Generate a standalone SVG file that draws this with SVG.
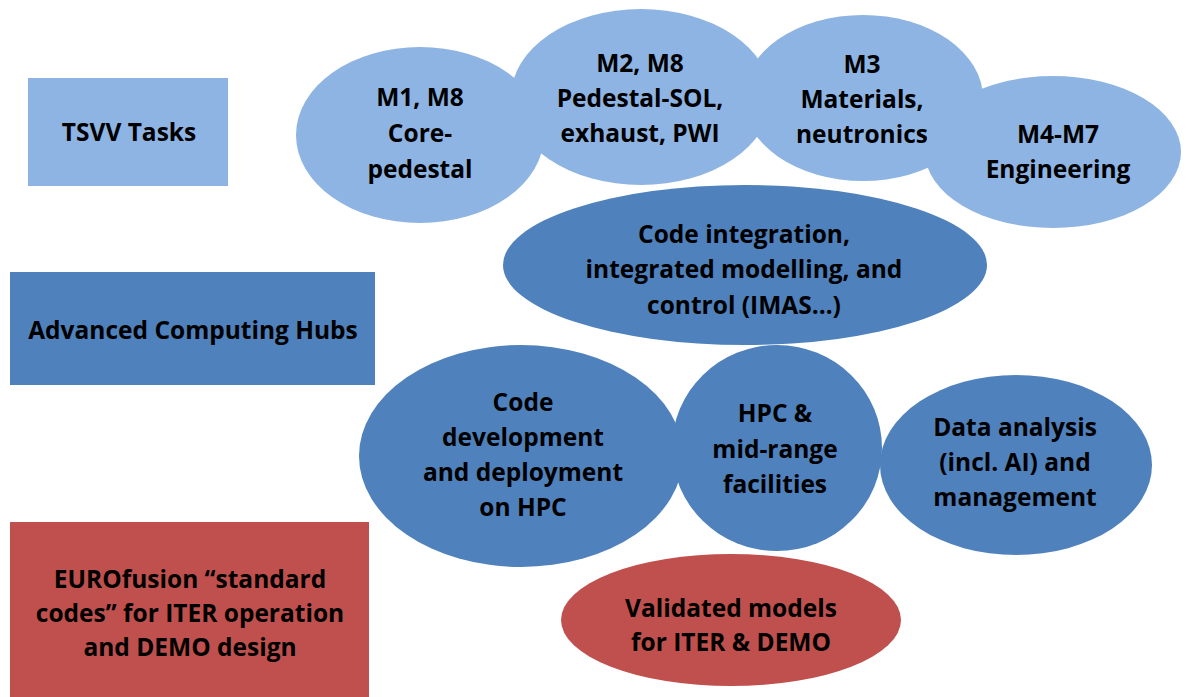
<svg xmlns="http://www.w3.org/2000/svg" width="1189" height="697" viewBox="0 0 1189 697">
  <style>
    .light { fill: #8EB4E3; }
    .dark { fill: #4F81BD; }
    .red { fill: #C0504D; }
    text { font-family: "Open Sans", "Liberation Sans", sans-serif; font-weight: bold; font-size: 24.5px; fill: #000; text-anchor: middle; dominant-baseline: central; }
  </style>
  <rect width="1189" height="697" fill="#ffffff"/>

  <!-- row labels -->
  <g id="tsvv-tasks">
    <rect class="light" x="28" y="78" width="200" height="108"/>
    <text x="129" y="131">TSVV Tasks</text>
  </g>
  <g id="computing-hubs">
    <rect class="dark" x="10" y="272" width="365" height="113"/>
    <text x="193" y="329">Advanced Computing Hubs</text>
  </g>
  <g id="standard-codes">
    <rect class="red" x="10" y="522" width="359" height="175"/>
    <text x="190" y="578">EUROfusion “standard</text>
    <text x="190" y="612">codes” for ITER operation</text>
    <text x="190" y="646">and DEMO design</text>
  </g>

  <!-- TSVV task ellipses -->
  <g id="m1-m8">
    <ellipse class="light" cx="420" cy="135" rx="124" ry="88"/>
    <text x="420" y="96">M1, M8</text>
    <text x="420" y="132">Core-</text>
    <text x="420" y="168">pedestal</text>
  </g>
  <g id="m2-m8">
    <ellipse class="light" cx="641" cy="97" rx="130" ry="88"/>
    <text x="640" y="62">M2, M8</text>
    <text x="640" y="97">Pedestal-SOL,</text>
    <text x="640" y="132">exhaust, PWI</text>
  </g>
  <g id="m3">
    <ellipse class="light" cx="863" cy="98" rx="120" ry="83"/>
    <text x="862" y="63">M3</text>
    <text x="862" y="98">Materials,</text>
    <text x="862" y="133">neutronics</text>
  </g>
  <g id="m4-m7">
    <ellipse class="light" cx="1053" cy="152" rx="128" ry="76"/>
    <text x="1058" y="133">M4-M7</text>
    <text x="1058" y="168">Engineering</text>
  </g>

  <!-- computing hub ellipses -->
  <g id="code-integration">
    <ellipse class="dark" cx="745" cy="265" rx="242" ry="80"/>
    <text x="744" y="233">Code integration,</text>
    <text x="744" y="268">integrated modelling, and</text>
    <text x="744" y="304">control (IMAS…)</text>
  </g>
  <g id="code-development">
    <ellipse class="dark" cx="521" cy="456" rx="162" ry="111"/>
    <text x="523" y="401">Code</text>
    <text x="523" y="436">development</text>
    <text x="523" y="471">and deployment</text>
    <text x="523" y="506">on HPC</text>
  </g>
  <g id="hpc-facilities">
    <ellipse class="dark" cx="777" cy="448" rx="105" ry="103"/>
    <text x="775" y="412">HPC &amp;</text>
    <text x="775" y="448">mid-range</text>
    <text x="775" y="483">facilities</text>
  </g>
  <g id="data-analysis">
    <ellipse class="dark" cx="1016" cy="465" rx="136" ry="90"/>
    <text x="1015" y="426">Data analysis</text>
    <text x="1015" y="461">(incl. AI) and</text>
    <text x="1015" y="496">management</text>
  </g>

  <!-- outcome -->
  <g id="validated-models">
    <ellipse class="red" cx="731" cy="620" rx="170" ry="66"/>
    <text x="731" y="607">Validated models</text>
    <text x="731" y="641">for ITER &amp; DEMO</text>
  </g>

  <g id="connectors"></g>
</svg>
